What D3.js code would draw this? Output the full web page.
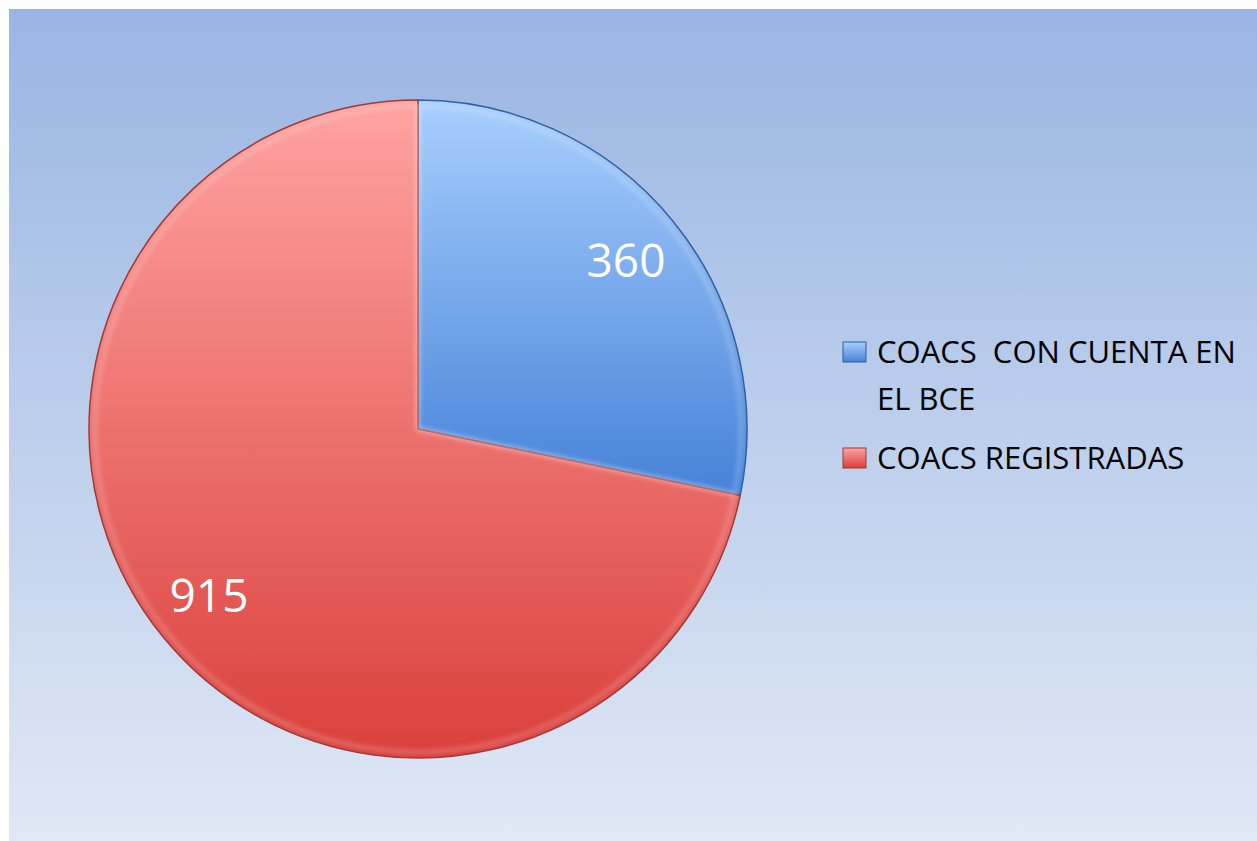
<!DOCTYPE html>
<html><head><meta charset="utf-8">
<script src="https://cdn.jsdelivr.net/npm/d3@7"></script>
<style>html,body{margin:0;padding:0;background:#fff;overflow:hidden}</style>
</head><body>
<script>
const categories = ["COACS  CON CUENTA EN EL BCE", "COACS REGISTRADAS"];
const values = [360, 915];
const legendLines = [["COACS  CON CUENTA EN", "EL BCE"], ["COACS REGISTRADAS"]];

const W = 1257, H = 841;
const svg = d3.select("body").append("svg").attr("width", W).attr("height", H);
const defs = svg.append("defs");

const bg = defs.append("linearGradient").attr("id","bg").attr("x1",0).attr("y1",0).attr("x2",0).attr("y2",1);
bg.append("stop").attr("offset","0%").attr("stop-color","#99b5e3");
bg.append("stop").attr("offset","100%").attr("stop-color","#e0e8f5");
svg.append("rect").attr("x",9).attr("y",9).attr("width",W-9).attr("height",H-9).attr("fill","url(#bg)");

const cx = 418, cy = 429, R = 329;
const grads = [
  {id:"gBlue", c0:"#a8cffe", c1:"#4682d8", dark:"#2f5f9e"},
  {id:"gRed", c0:"#ffa3a1", c1:"#da403c", dark:"#9c3a38"}
];
grads.forEach(g => {
  const lg = defs.append("linearGradient").attr("id", g.id)
    .attr("x1",0).attr("y1",0).attr("x2",0).attr("y2",1);
  lg.append("stop").attr("offset","0%").attr("stop-color", g.c0);
  lg.append("stop").attr("offset","100%").attr("stop-color", g.c1);
});
defs.append("filter").attr("id","blur").append("feGaussianBlur").attr("stdDeviation",2.5);

const pie = d3.pie().sort(null).value(d => d)(values);
const arc = d3.arc().innerRadius(0).outerRadius(R);
const arcIn = d3.arc().innerRadius(0).outerRadius(R-6);
const g = svg.append("g").attr("transform",`translate(${cx},${cy})`);

g.selectAll("path.base").data(pie).join("path").attr("class","base")
  .attr("d", arc).attr("fill",(d,i)=>`url(#${grads[i].id})`)
  .attr("stroke",(d,i)=>grads[i].dark).attr("stroke-width",1.5).attr("stroke-linejoin","round");
g.selectAll("path.hi").data(pie).join("path").attr("class","hi")
  .attr("d", arcIn).attr("fill","none").attr("stroke","#fff").attr("stroke-opacity",0.3)
  .attr("stroke-width",3).attr("filter","url(#blur)");

const labelPos = [[626,277],[209,612]];
g.selectAll("text.lab").data(pie).join("text").attr("class","lab")
  .attr("x",(d,i)=>labelPos[i][0]-cx).attr("y",(d,i)=>labelPos[i][1]-cy)
  .attr("text-anchor","middle").attr("fill","#fff")
  .style("font-family","'Open Sans', sans-serif").style("font-size","46px")
  .text(d => d.data);

const legY = [342, 448];
const legend = svg.append("g");
categories.forEach((c,i) => {
  const lg = defs.append("linearGradient").attr("id","lg"+i).attr("x1",0).attr("y1",0).attr("x2",0).attr("y2",1);
  lg.append("stop").attr("offset","0%").attr("stop-color", grads[i].c0);
  lg.append("stop").attr("offset","100%").attr("stop-color", grads[i].c1);
  legend.append("rect").attr("x",843).attr("y",legY[i]).attr("width",23).attr("height",20)
    .attr("fill","url(#lg"+i+")").attr("stroke",grads[i].dark).attr("stroke-width",1);
  const t = legend.append("text").attr("x",877).attr("y",legY[i]+21)
    .attr("xml:space","preserve").style("white-space","pre")
    .style("font-family","'Open Sans', sans-serif").style("font-size","31px").attr("fill","#000");
  legendLines[i].forEach((ln,j)=>{
    t.append("tspan").attr("x",877).attr("dy", j===0?0:47).text(ln);
  });
});
</script>
</body></html>
